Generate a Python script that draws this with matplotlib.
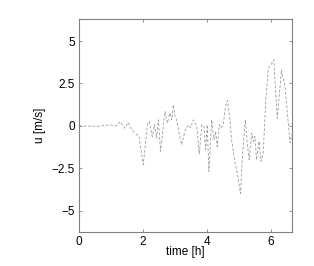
import matplotlib
matplotlib.use("Agg")
import matplotlib.pyplot as plt

t_h = [0.0, 0.3, 0.6, 0.97, 1.18, 1.28, 1.36, 1.44, 1.54, 1.65, 1.75, 1.875, 2.01, 2.14, 2.2,
       2.29, 2.36, 2.43, 2.48, 2.55, 2.64, 2.69, 2.76, 2.84, 2.9, 2.95, 3.0, 3.05, 3.14, 3.21,
       3.31, 3.42, 3.49, 3.57, 3.68, 3.76, 3.84, 3.91, 3.96, 4.01, 4.06, 4.15, 4.22, 4.27, 4.32,
       4.39, 4.45, 4.51, 4.58, 4.64, 4.72, 4.77, 4.88, 4.95, 5.05, 5.11, 5.2, 5.26, 5.32, 5.4,
       5.45, 5.5, 5.55, 5.63, 5.69, 5.76, 5.84, 5.92, 6.0, 6.09, 6.2, 6.33, 6.44, 6.6, 6.66]
u_ms = [0.0, -0.02, -0.03, 0.06, 0.0, 0.25, 0.05, -0.14, 0.2, -0.24, -0.43, -0.63, -2.3, 0.06, 0.25,
        -0.63, 0.06, -0.73, 0.35, -1.5, 0.06, 0.84, 0.16, 0.75, 0.35, 1.24, 0.55, 0.35, -0.53, -1.12,
        -0.33, 0.06, -0.1, 0.35, 0.0, -1.65, 0.06, -0.05, -1.4, 0.06, -2.7, 0.35, -0.82, -0.33, -1.22,
        0.06, -0.13, 0.06, 1.14, 1.49, 0.35, -0.82, -2.2, -2.8, -4.0, -1.8, 0.35, -1.0, -2.0, -0.43,
        -0.92, -0.63, -2.0, -0.92, -2.1, -1.6, 1.53, 3.4, 3.6, 3.9, 0.45, 3.3, 2.3, -1.0, -0.5]

x_ticks = [0, 2, 4, 6]
y_ticks = [-5, -2.5, 0, 2.5, 5]
y_tick_labels = ["\u22125", "\u22122.5", "0", "2.5", "5"]

plt.rcParams['font.family'] = ['Liberation Sans', 'DejaVu Sans']
fig = plt.figure(figsize=(3.14, 2.66), dpi=100)
ax = fig.add_axes([0.2516, 0.129, 0.6774, 0.798])
ax.plot(t_h, u_ms, color='#9a9a9a', lw=0.6, dashes=(3.2, 2.2))
ax.set_xlim(0, 6.65)
ax.set_ylim(-6.25, 6.28)
ax.set_xticks(x_ticks)
ax.set_xticklabels([str(v) for v in x_ticks])
ax.set_yticks(y_ticks)
ax.set_yticklabels(y_tick_labels)
ax.tick_params(direction='in', length=2, width=0.6, color='#808080', labelsize=8.5,
               top=True, right=True, pad=3)
for s in ax.spines.values():
    s.set_color('#808080')
    s.set_linewidth(0.8)
ax.set_xlabel('time [h]', fontsize=8.5, labelpad=-1)
ax.set_ylabel('u [m/s]', fontsize=8.5, labelpad=4)
fig.savefig('out.png', dpi=100)
